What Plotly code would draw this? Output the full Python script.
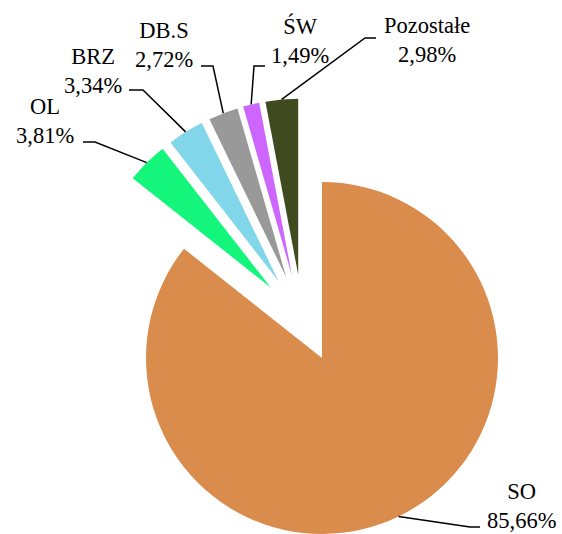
import math
import plotly.graph_objects as go

# ---- data ----
categories = ["SO", "OL", "BRZ", "DB.S", "ŚW", "Pozostałe"]
values = [85.66, 3.81, 3.34, 2.72, 1.49, 2.98]
colors = ["#DA8C4D", "#14F57C", "#82D6EA", "#999999", "#CC66FF", "#3F4A1F"]

# ---- layout constants (pixels) ----
W, H = 562, 534
R = 176                      # pie radius
CENTER = (302.4, 319.5)      # un-exploded pie centre
EXPLODE = 45                 # explosion distance of every slice
FONT = "Liberation Serif, Times New Roman, serif"
FS = 22.5

# label block centres (x, y) and leader-line start / elbow points
label_pos = {
    "SO": (521, 506), "OL": (45, 121), "BRZ": (93, 71),
    "DB.S": (164, 45), "ŚW": (299.5, 41), "Pozostałe": (427, 40),
}
leader = {
    "SO": [(480, 527), (470, 527)],
    "OL": [(83, 142), (95, 142)],
    "BRZ": [(129, 90), (143, 90)],
    "DB.S": [(201, 66), (213, 66)],
    "ŚW": [(265, 66), (254, 66)],
    "Pozostałe": [(376, 38), (365, 38)],
}

total = sum(values)


def fmt(v):
    return f"{v:.2f}".replace(".", ",") + "%"


def px(x, y):
    return x / W, 1 - y / H


fig = go.Figure()
shapes = []
annotations = []
start = 0.0
for i, (cat, val) in enumerate(zip(categories, values)):
    span = val / total * 360.0
    mid = math.radians(start + span / 2)
    start += span
    dx, dy = math.sin(mid), -math.cos(mid)
    cx = CENTER[0] + EXPLODE * dx
    cy = CENTER[1] + EXPLODE * dy
    cy = min(cy, H - R)
    cy = max(cy, R)
    dom_x = [max(0, (cx - R) / W), min(1, (cx + R) / W)]
    dom_y = [max(0, (H - cy - R) / H), min(1, (H - cy + R) / H)]
    slice_cols = [c if j == i else "rgba(0,0,0,0)" for j, c in enumerate(colors)]
    fig.add_trace(go.Pie(
        values=values, labels=categories, sort=False, direction="clockwise",
        rotation=0, textinfo="none", showlegend=False,
        marker=dict(colors=slice_cols, line=dict(width=0)),
        domain=dict(x=dom_x, y=dom_y), hoverinfo="label+percent",
    ))
    # leader line: label -> elbow -> slice outer arc at bisector
    ex, ey = cx + R * dx, cy + R * dy
    pts = leader[cat] + [(ex, ey)]
    path = "M " + " L ".join(f"{px(x, y)[0]:.5f},{px(x, y)[1]:.5f}" for x, y in pts)
    shapes.append(dict(type="path", path=path, xref="paper", yref="paper",
                       line=dict(color="black", width=1.5)))
    lx, ly = label_pos[cat]
    ax_, ay_ = px(lx, ly)
    annotations.append(dict(
        text=f"{cat}<br>{fmt(val)}", x=ax_, y=ay_, xref="paper", yref="paper",
        xanchor="center", yanchor="middle", showarrow=False, align="center",
        font=dict(family=FONT, size=FS, color="black"),
    ))

fig.update_layout(
    width=W, height=H, margin=dict(l=0, r=0, t=0, b=0),
    paper_bgcolor="white", plot_bgcolor="white",
    shapes=shapes, annotations=annotations, showlegend=False,
)
fig.write_html("out.html")
